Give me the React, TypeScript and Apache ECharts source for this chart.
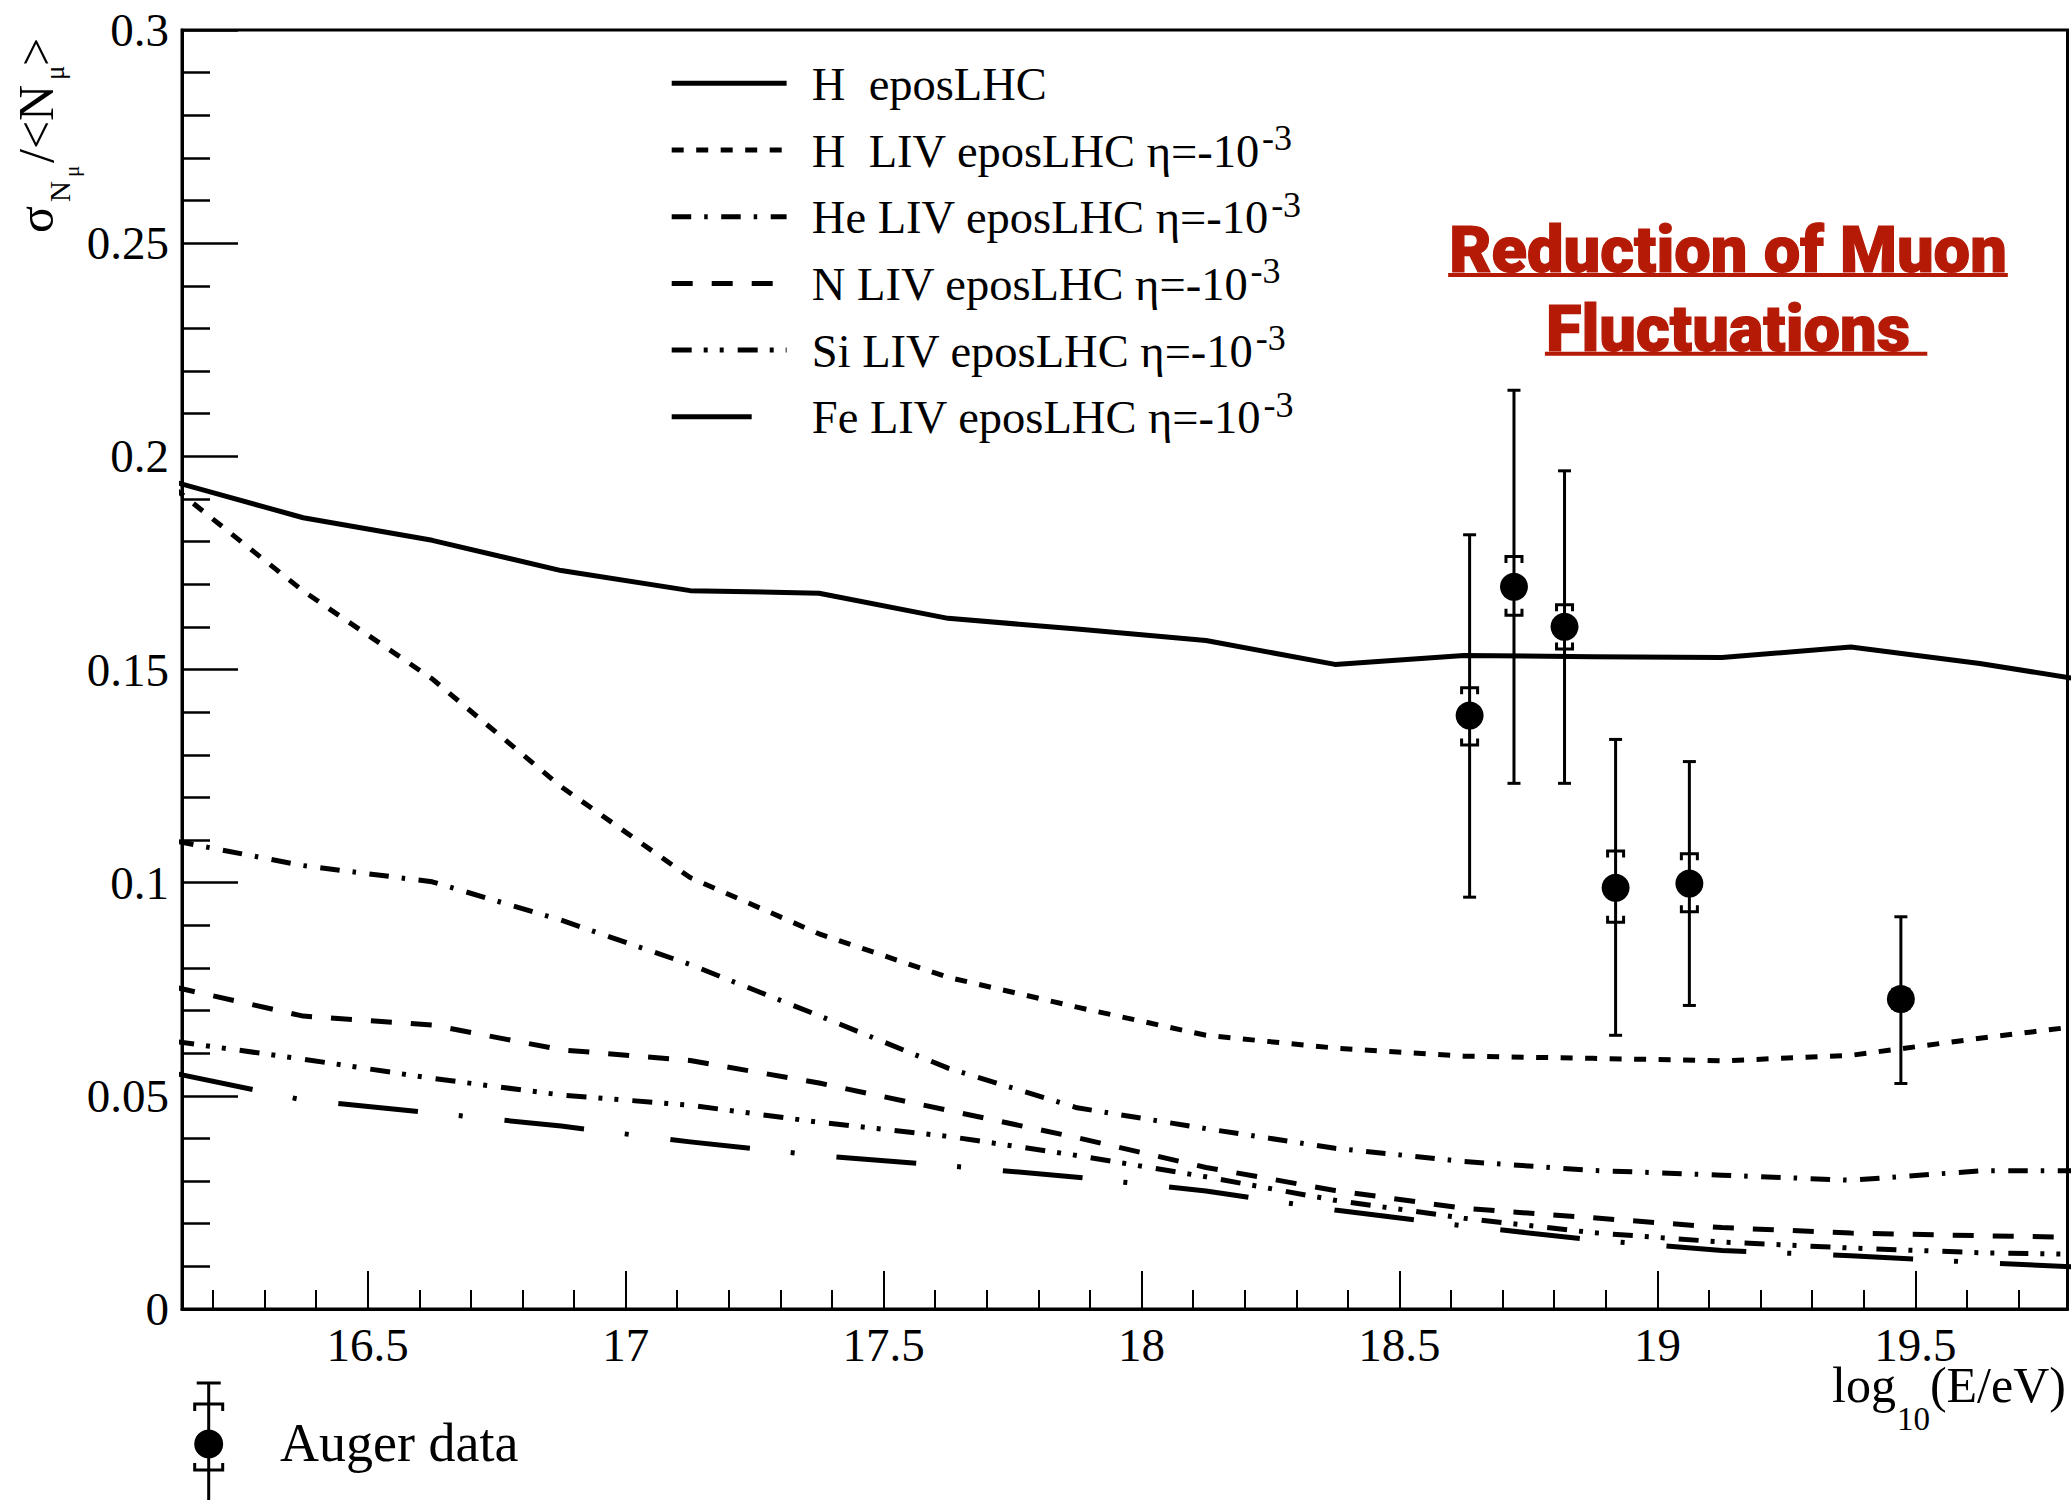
import React, { useEffect, useRef } from 'react';
import * as echarts from 'echarts';

// ---------------- data ----------------
const LOG_E = [16.125, 16.375, 16.625, 16.875, 17.125, 17.375, 17.625, 17.875, 18.125, 18.375, 18.625, 18.875, 19.125, 19.375, 19.625, 19.875];
const H_EPOS = [0.194, 0.1856, 0.1803, 0.1732, 0.1685, 0.1679, 0.162, 0.1595, 0.1568, 0.1512, 0.1533, 0.153, 0.1528, 0.1553, 0.1514, 0.1466];
const H_LIV = [0.1925, 0.1684, 0.1478, 0.1225, 0.1012, 0.088, 0.0778, 0.0708, 0.0642, 0.0612, 0.0593, 0.0588, 0.0582, 0.0595, 0.0635, 0.0672];
const HE_LIV = [0.1098, 0.104, 0.1002, 0.0912, 0.0808, 0.0688, 0.0565, 0.0472, 0.0423, 0.0377, 0.0346, 0.0325, 0.0314, 0.0302, 0.0324, 0.0324];
const N_LIV = [0.0755, 0.0687, 0.0666, 0.0608, 0.0583, 0.053, 0.0466, 0.0402, 0.0332, 0.0278, 0.0236, 0.0214, 0.0191, 0.0178, 0.0172, 0.0167];
const SI_LIV = [0.0628, 0.0586, 0.0541, 0.0502, 0.0478, 0.0438, 0.0405, 0.036, 0.031, 0.0255, 0.0213, 0.0179, 0.0157, 0.0143, 0.0132, 0.0127];
const FE_LIV = [0.0553, 0.049, 0.046, 0.0429, 0.0392, 0.036, 0.0336, 0.0309, 0.0277, 0.0232, 0.0195, 0.0162, 0.0137, 0.0125, 0.0109, 0.0095];

const AUGER_X = [18.636, 18.722, 18.82, 18.919, 19.062, 19.472];
const AUGER_Y = [0.1392, 0.1694, 0.16, 0.0988, 0.0998, 0.0727];
const AUGER_STAT_LO = [0.0966, 0.1233, 0.1233, 0.0642, 0.0712, 0.0529];
const AUGER_STAT_HI = [0.1816, 0.2155, 0.1966, 0.1336, 0.1284, 0.092];
const AUGER_SYS_LO = [0.1323, 0.1627, 0.1548, 0.0907, 0.0932, 0.0705];
const AUGER_SYS_HI = [0.1457, 0.1765, 0.1652, 0.1074, 0.1068, 0.075];

const X_MAJOR = [16.5, 17, 17.5, 18, 18.5, 19, 19.5];
const X_MINOR = [16.2, 16.3, 16.4, 16.6, 16.7, 16.8, 16.9, 17.1, 17.2, 17.3, 17.4, 17.6, 17.7, 17.8, 17.9,
  18.1, 18.2, 18.3, 18.4, 18.6, 18.7, 18.8, 18.9, 19.1, 19.2, 19.3, 19.4, 19.6, 19.7];

const LEGEND_LABELS = ['H  eposLHC', 'H  LIV eposLHC η=-10', 'He LIV eposLHC η=-10', 'N LIV eposLHC η=-10', 'Si LIV eposLHC η=-10', 'Fe LIV eposLHC η=-10'];
const LEGEND_SUPS = ['', '-3', '-3', '-3', '-3', '-3'];
const TITLE_LINES = ['Reduction of Muon', 'Fluctuations'];
const AUGER_LABEL = 'Auger data';

// ---------------- styles ----------------
const FONT = 'Liberation Serif';
const DASHES: any[] = ['solid', [12, 12.5], [19.5, 13, 3.5, 13.5], [21, 19], [20, 12, 4, 12, 4, 14], [80, 41, 4, 42]];
const SERIES_VALUES = [H_EPOS, H_LIV, HE_LIV, N_LIV, SI_LIV, FE_LIV];
const LW = 5;

export default function App() {
  const ref = useRef<HTMLDivElement>(null);
  useEffect(() => {
    if (!ref.current) return;
    const chart = echarts.init(ref.current, undefined, { renderer: 'svg' });
    const ctx = document.createElement('canvas').getContext('2d') as CanvasRenderingContext2D;
    const tw = (s: string, size: number, family = FONT, weight: any = 'normal') => {
      ctx.font = `${weight} ${size}px "${family}"`;
      return ctx.measureText(s).width;
    };
    const T = (text: string, x: number, baseline: number, fs: number, o: any = {}) => ({
      type: 'text', x, y: baseline - 0.3375 * fs, z: 100, silent: true,
      style: {
        text, fontSize: fs, fontFamily: o.family || FONT, fontWeight: o.weight || 'normal',
        fill: o.fill || '#000', align: o.align || 'left', textAlign: o.align || 'left',
        verticalAlign: 'middle', textVerticalAlign: 'middle',
        stroke: o.stroke || null, lineWidth: o.strokeWidth || 0,
      },
    });

    const graphics: any[] = [];
    // legend
    LEGEND_LABELS.forEach((lab, i) => {
      const y = 83.3 + 66.7 * i;
      const dash = DASHES[i];
      graphics.push({
        type: 'line', z: 100, silent: true,
        shape: { x1: 671.7, y1: y, x2: 786.6, y2: y },
        style: { stroke: '#000', lineWidth: LW, lineDash: dash === 'solid' ? null : dash, lineCap: 'butt' },
      });
      graphics.push(T(lab, 811.8, y + 16.7, 46.5));
      if (LEGEND_SUPS[i]) {
        graphics.push(T(LEGEND_SUPS[i], 811.8 + tw(lab, 46.5) + 2, y, 36));
      }
    });
    // red title
    const TFS = 65;
    const TCOL = '#b41a06';
    const tcx = 1728;
    const tBase = [272, 350.7];
    TITLE_LINES.forEach((line, i) => {
      graphics.push(T(line, tcx, tBase[i], TFS, { family: 'Roboto', weight: 900, fill: TCOL, align: 'center', stroke: TCOL, strokeWidth: 1.2 }));
      const w = tw(line, TFS, 'Roboto', 900) + 2;
      const wExtra = i === 1 ? tw(' ', TFS, 'Roboto', 900) : 0;
      graphics.push({
        type: 'rect', z: 100, silent: true,
        shape: { x: tcx - w / 2, y: tBase[i] + 1, width: w + wExtra, height: 4 },
        style: { fill: TCOL },
      });
    });
    // x axis title: log10(E/eV)
    {
      let x = 1832;
      const b = 1401.7;
      graphics.push(T('log', x, b, 50));
      x += tw('log', 50) + 1;
      graphics.push(T('10', x, b + 28, 33));
      x += tw('10', 33);
      graphics.push(T('(E/eV)', x, b, 50));
    }
    // y axis title: sigma_{N_mu}/<N_mu>
    {
      const items: [string, number, number, number][] = [
        ['σ', 0, 0, 50],
        ['N', 31, 17, 29],
        ['μ', 56, 26, 21],
        ['/<N', 70, 0, 50],
        ['μ', 153, 11, 27],
        ['>', 167, 0, 50],
      ];
      graphics.push({
        type: 'group', x: 53, y: 233, rotation: Math.PI / 2, z: 100,
        children: items.map(([t, lx, ly, fs]) => T(t, lx, ly, fs)),
      });
    }
    // Auger data legend entry
    {
      const cx = 208.7, cy = 1444;
      const st = { stroke: '#000', lineWidth: 3, fill: 'none' };
      graphics.push({ type: 'line', z: 100, silent: true, shape: { x1: cx, y1: 1383, x2: cx, y2: 1500 }, style: st });
      graphics.push({ type: 'line', z: 100, silent: true, shape: { x1: cx - 12, y1: 1383, x2: cx + 12, y2: 1383 }, style: st });
      graphics.push({ type: 'polyline', z: 100, silent: true, shape: { points: [[cx - 14, 1411], [cx - 14, 1404], [cx + 14, 1404], [cx + 14, 1411]] }, style: st });
      graphics.push({ type: 'polyline', z: 100, silent: true, shape: { points: [[cx - 14, 1463], [cx - 14, 1470], [cx + 14, 1470], [cx + 14, 1463]] }, style: st });
      graphics.push({ type: 'circle', z: 101, silent: true, shape: { cx, cy, r: 14.5 }, style: { fill: '#000' } });
      graphics.push(T(AUGER_LABEL, 280, 1461.7, 54));
    }

    const lineSeries = SERIES_VALUES.map((vals, i) => ({
      name: LEGEND_LABELS[i] + LEGEND_SUPS[i],
      type: 'line',
      data: LOG_E.map((x, k) => [x, vals[k]]),
      showSymbol: false,
      symbol: 'none',
      clip: true,
      silent: true,
      z: 3,
      lineStyle: { color: '#000', width: LW, type: DASHES[i], cap: 'butt', join: 'round', opacity: 1 },
    }));

    const errSeries = {
      name: AUGER_LABEL + ' errors',
      type: 'custom',
      z: 5,
      silent: true,
      data: AUGER_X.map((x, i) => [x, AUGER_Y[i], AUGER_STAT_LO[i], AUGER_STAT_HI[i], AUGER_SYS_LO[i], AUGER_SYS_HI[i]]),
      encode: { x: 0, y: [1, 2, 3, 4, 5] },
      renderItem: (params: any, api: any) => {
        const x = api.value(0);
        const c = api.coord([x, api.value(1)]);
        const lo = api.coord([x, api.value(2)]);
        const hi = api.coord([x, api.value(3)]);
        const slo = api.coord([x, api.value(4)]);
        const shi = api.coord([x, api.value(5)]);
        const style = { stroke: '#000', lineWidth: 3, fill: 'none' };
        const cap = 6.5, bw = 8, leg = 6.5;
        const px = c[0];
        return {
          type: 'group',
          children: [
            { type: 'line', shape: { x1: px, y1: hi[1], x2: px, y2: lo[1] }, style },
            { type: 'line', shape: { x1: px - cap, y1: hi[1], x2: px + cap, y2: hi[1] }, style },
            { type: 'line', shape: { x1: px - cap, y1: lo[1], x2: px + cap, y2: lo[1] }, style },
            { type: 'polyline', shape: { points: [[px - bw, shi[1] + leg], [px - bw, shi[1]], [px + bw, shi[1]], [px + bw, shi[1] + leg]] }, style },
            { type: 'polyline', shape: { points: [[px - bw, slo[1] - leg], [px - bw, slo[1]], [px + bw, slo[1]], [px + bw, slo[1] - leg]] }, style },
          ],
        };
      },
    };

    const pointSeries = {
      name: AUGER_LABEL,
      type: 'scatter',
      z: 6,
      silent: true,
      symbol: 'circle',
      symbolSize: 28,
      itemStyle: { color: '#000', opacity: 1 },
      data: AUGER_X.map((x, i) => [x, AUGER_Y[i]]),
    };

    const axisFont = { fontSize: 47, fontFamily: FONT, color: '#000' };

    const option: any = {
      animation: false,
      backgroundColor: '#fff',
      grid: {
        left: 182, right: 3.5, top: 30, bottom: 191,
        show: true, borderColor: '#000', borderWidth: 3, backgroundColor: 'transparent',
        containLabel: false, outerBoundsMode: 'none',
      },
      xAxis: [
        {
          type: 'value', min: 16.14, max: 19.795, position: 'bottom',
          axisLine: { show: true, lineStyle: { color: '#000', width: 3 } },
          axisTick: { show: true, inside: true, length: 38, customValues: X_MAJOR, lineStyle: { color: '#000', width: 2 } },
          axisLabel: { show: true, customValues: X_MAJOR, margin: 12, formatter: (v: number) => String(v), ...axisFont },
          splitLine: { show: false },
          minorTick: { show: false },
        },
        {
          type: 'value', min: 16.14, max: 19.795, position: 'bottom', gridIndex: 0,
          axisLine: { show: false },
          axisTick: { show: true, inside: true, length: 19, customValues: X_MINOR, lineStyle: { color: '#000', width: 2 } },
          axisLabel: { show: false },
          splitLine: { show: false },
        },
      ],
      yAxis: {
        type: 'value', min: 0, max: 0.3, interval: 0.05,
        axisLine: { show: true, lineStyle: { color: '#000', width: 3 } },
        axisTick: { show: true, inside: true, length: 56, lineStyle: { color: '#000', width: 2.5 } },
        minorTick: { show: true, splitNumber: 5, length: 28, lineStyle: { color: '#000', width: 2.5 } },
        axisLabel: { margin: 13, formatter: (v: number) => String(+v.toFixed(2)), ...axisFont },
        splitLine: { show: false },
        minorSplitLine: { show: false },
      },
      series: [...lineSeries, errSeries, pointSeries],
      graphic: { elements: graphics },
    };
    chart.setOption(option);
    return () => chart.dispose();
  }, []);
  return (
    <div
      ref={ref}
      style={{ position: 'absolute', left: 0, top: 0, width: 2071, height: 1500, background: '#fff' }}
    />
  );
}
